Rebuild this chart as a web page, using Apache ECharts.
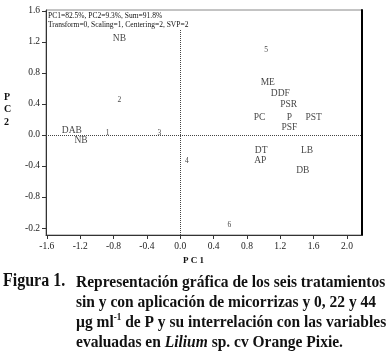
<!DOCTYPE html>
<html>
<head>
<meta charset="utf-8">
<script src="https://cdn.jsdelivr.net/npm/echarts@6/dist/echarts.min.js"></script>
<style>
  html, body { margin: 0; padding: 0; background: #fff; }
  #chart { width: 391px; height: 355px; }
</style>
</head>
<body>
<div id="chart"></div>
<script>
// variables (PCA loadings) - names and coordinates
var varNames = ["NB", "DAB", "NB", "ME", "DDF", "PSR", "PC", "P", "PST", "PSF", "DT", "AP", "LB", "DB"];
var varPC1 = [-0.73, -1.30, -1.19, 1.05, 1.20, 1.30, 0.95, 1.31, 1.60, 1.31, 0.97, 0.96, 1.52, 1.47];
var varPC2 = [1.24, 0.06, -0.07, 0.67, 0.53, 0.39, 0.23, 0.23, 0.23, 0.09, -0.20, -0.33, -0.20, -0.46];

// treatments (scores)
var trtNames = ["1", "2", "3", "4", "5", "6"];
var trtPC1 = [-0.87, -0.73, -0.25, 0.08, 1.03, 0.59];
var trtPC2 = [0.03, 0.45, 0.03, -0.34, 1.10, -1.16];

// tick labels (the bottom y label is printed as -0.2 in the original figure)
var xTicks = [-1.6, -1.2, -0.8, -0.4, 0.0, 0.4, 0.8, 1.2, 1.6, 2.0];
var xTickLabels = ["-1.6", "-1.2", "-0.8", "-0.4", "0.0", "0.4", "0.8", "1.2", "1.6", "2.0"];
var yTicks = [-1.2, -0.8, -0.4, 0.0, 0.4, 0.8, 1.2, 1.6];
var yTickLabels = ["-0.2", "-0.8", "-0.4", "0.0", "0.4", "0.8", "1.2", "1.6"];

var serif = "'Liberation Serif', 'Times New Roman', serif";

function pairs(xs, ys, names) {
  var out = [];
  for (var i = 0; i < xs.length; i++) out.push({ value: [xs[i], ys[i]], name: names[i] });
  return out;
}
function lookup(ticks, labels) {
  return function (v) {
    for (var i = 0; i < ticks.length; i++) {
      if (Math.abs(ticks[i] - v) < 1e-6) return labels[i];
    }
    return "";
  };
}

var chart = echarts.init(document.getElementById("chart"), null, { renderer: "canvas" });

var option = {
  backgroundColor: "#fff",
  animation: false,
  grid: {
    left: 46, right: 29, top: 10, bottom: 120,
    show: true, borderColor: "#888", borderWidth: 1
  },
  xAxis: {
    type: "value",
    min: -1.61, max: 2.18,
    axisLine: { onZero: false, lineStyle: { color: "#333", width: 1 } },
    axisTick: { show: true, customValues: xTicks, length: 4, lineStyle: { color: "#333" } },
    axisLabel: {
      customValues: xTicks,
      formatter: lookup(xTicks, xTickLabels),
      fontFamily: serif, fontSize: 9.5, color: "#222", margin: 6
    },
    splitLine: { show: false }
  },
  yAxis: [{
    type: "value",
    min: -1.29, max: 1.61,
    axisLine: { onZero: false, lineStyle: { color: "#333", width: 1 } },
    axisTick: { show: true, customValues: yTicks, length: 4, lineStyle: { color: "#333" } },
    axisLabel: {
      customValues: yTicks,
      formatter: lookup(yTicks, yTickLabels),
      fontFamily: serif, fontSize: 9.5, color: "#222", margin: 6
    },
    splitLine: { show: false }
  }, {
    type: "value",
    position: "right",
    min: -1.29, max: 1.61,
    axisLine: { show: true, onZero: false, lineStyle: { color: "#000", width: 2 } },
    axisTick: { show: false },
    axisLabel: { show: false },
    splitLine: { show: false }
  }],
  series: [
    {
      type: "scatter",
      data: pairs(varPC1, varPC2, varNames),
      symbolSize: 1,
      itemStyle: { color: "rgba(0,0,0,0)" },
      label: {
        show: true, position: "inside",
        formatter: "{b}",
        fontFamily: serif, fontSize: 9.5, color: "#111"
      },
      markLine: {
        silent: true,
        symbol: "none",
        label: { show: false },
        lineStyle: { type: "dotted", color: "#444", width: 1 },
        data: [
          [{ coord: [0, -1.29] }, { coord: [0, 1.36] }],
          [{ coord: [-1.61, 0] }, { coord: [2.18, 0] }]
        ]
      }
    },
    {
      type: "scatter",
      data: pairs(trtPC1, trtPC2, trtNames),
      symbolSize: 1,
      itemStyle: { color: "rgba(0,0,0,0)" },
      label: {
        show: true, position: "inside",
        formatter: "{b}",
        fontFamily: serif, fontSize: 7.5, color: "#111"
      }
    }
  ],
  graphic: [
    {
      type: "text", left: 48, top: 11,
      style: {
        text: "PC1=82.5%, PC2=9.3%, Sum=91.8%\nTransform=0, Scaling=1, Centering=2, SVP=2",
        font: "7.5px " + serif, fill: "#111", lineHeight: 9.5
      }
    },
    {
      type: "text", left: 183, top: 256,
      style: { text: "P C 1", font: "bold 9px " + serif, fill: "#111" }
    },
    {
      type: "text", left: 4, top: 91,
      style: { text: "P\nC\n2", font: "bold 10px " + serif, fill: "#111", lineHeight: 12.5, align: "center" }
    },
    {
      type: "text", left: 3, top: 272, scaleY: 1.12,
      style: { text: "Figura 1.", font: "bold 16px " + serif, fill: "#111" }
    },
    {
      type: "text", left: 76, top: 272, scaleY: 1.12,
      style: {
        text: "Representación gráfica de los seis tratamientos\nsin y con aplicación de micorrizas y 0, 22 y 44",
        font: "bold 15.5px " + serif, fill: "#111", lineHeight: 18
      }
    },
    {
      type: "text", left: 76, top: 312, scaleY: 1.12,
      style: {
        rich: {
          n: { font: "bold 15.5px " + serif, fill: "#111" },
          s: { font: "bold 9px " + serif, fill: "#111", verticalAlign: "top", padding: [0, 0, 6, 0] },
          i: { font: "italic bold 15.5px " + serif, fill: "#111" }
        },
        text: "{n|\u00b5g ml}{s|-1}{n| de P y su interrelación con las variables}\n{n|evaluadas en }{i|Lilium}{n| sp. cv Orange Pixie.}",
        lineHeight: 18
      }
    }
  ]
};

chart.setOption(option);
</script>
</body>
</html>
